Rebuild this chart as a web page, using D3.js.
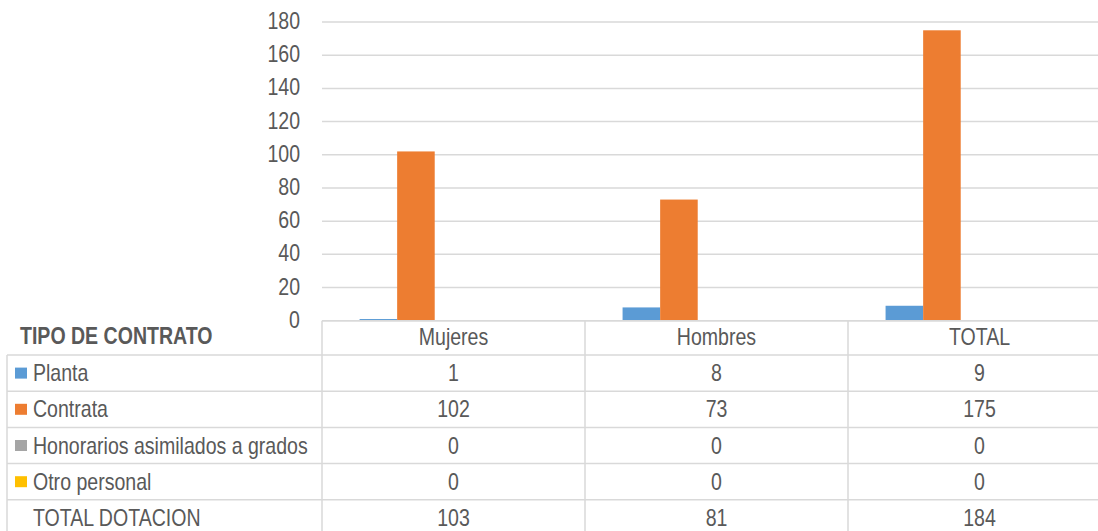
<!DOCTYPE html>
<html>
<head>
<meta charset="utf-8">
<script src="https://cdnjs.cloudflare.com/ajax/libs/d3/7.8.5/d3.min.js"></script>
<style>
  html, body { margin: 0; padding: 0; background: #fff; overflow: hidden; }
  svg text { font-family: "Liberation Sans", Arial, sans-serif; fill: #595959; }
</style>
</head>
<body>
<svg id="chart" width="1098" height="531"></svg>
<script>
// chart values
var categories = ["Mujeres", "Hombres", "TOTAL"];
var seriesNames = ["Planta", "Contrata", "Honorarios asimilados a grados", "Otro personal", "TOTAL DOTACION"];
var planta = [1, 8, 9];
var contrata = [102, 73, 175];
var honorarios = [0, 0, 0];
var otroPersonal = [0, 0, 0];
var totalDotacion = [103, 81, 184];
var seriesColors = ["#5B9BD5", "#ED7D31", "#A5A5A5", "#FFC000", "none"];
var yTicks = [0, 20, 40, 60, 80, 100, 120, 140, 160, 180];
var tableTitle = "TIPO DE CONTRATO";

var seriesValues = [planta, contrata, honorarios, otroPersonal, totalDotacion];

var plotLeft = 322, plotRight = 1111, plotTop = 22, plotBottom = 320.7;
var tableLeft = 7, headerBottom = 355, rowHeight = 36.2;
var gridColor = "#d9d9d9";
var fontSize = 23;
var narrow = 0.85; // squeeze Liberation Sans to look like Arial Narrow

var svg = d3.select("#chart");

// text drawn at (x, y) and squeezed horizontally
function narrowText(sel, x, y) {
    sel.attr("transform", function (d, i) {
        return "translate(" + x(d, i) + "," + y(d, i) + ") scale(" + narrow + ",1)";
    })
    .attr("dy", "0.35em")
    .style("font-size", fontSize + "px");
    return sel;
}

var xScale = d3.scaleBand().domain(categories).range([plotLeft, plotRight]).paddingInner(0).paddingOuter(0);
// 5 series in each group, TOTAL DOTACION has no fill
var xSeries = d3.scaleBand().domain(seriesNames).range([0, xScale.bandwidth()]).paddingInner(0).paddingOuter(1);
var yScale = d3.scaleLinear().domain([0, 180]).range([plotBottom, plotTop]);

// gridlines
svg.append("g").selectAll("line")
    .data(yTicks)
    .enter()
    .append("line")
    .attr("x1", plotLeft)
    .attr("x2", plotRight)
    .attr("y1", function (d) { return yScale(d); })
    .attr("y2", function (d) { return yScale(d); })
    .attr("stroke", gridColor)
    .attr("stroke-width", 1.5);

// y tick labels
narrowText(svg.append("g").selectAll("text")
    .data(yTicks)
    .enter()
    .append("text")
    .attr("text-anchor", "end")
    .text(function (d) { return d; }),
    function () { return 300; },
    function (d) { return yScale(d) - 1; });

// bars
seriesNames.forEach(function (name, si) {
    svg.append("g").selectAll("rect")
        .data(seriesValues[si])
        .enter()
        .append("rect")
        .attr("x", function (d, i) { return xScale(categories[i]) + xSeries(name); })
        .attr("width", xSeries.bandwidth())
        .attr("y", function (d) { return yScale(d); })
        .attr("height", function (d) { return yScale(0) - yScale(d); })
        .attr("fill", seriesColors[si]);
});

// data table
var rowScale = d3.scaleBand().domain(seriesNames)
    .range([headerBottom, headerBottom + rowHeight * seriesNames.length]);
var tableBottom = headerBottom + rowHeight * seriesNames.length;

var table = svg.append("g");
// horizontal lines
table.append("line")
    .attr("x1", plotLeft).attr("x2", plotRight)
    .attr("y1", plotBottom).attr("y2", plotBottom)
    .attr("stroke", gridColor).attr("stroke-width", 1.5);
table.selectAll("line.row")
    .data(seriesNames)
    .enter()
    .append("line")
    .attr("class", "row")
    .attr("x1", tableLeft).attr("x2", plotRight)
    .attr("y1", function (d) { return rowScale(d); })
    .attr("y2", function (d) { return rowScale(d); })
    .attr("stroke", gridColor).attr("stroke-width", 1.5);
// vertical lines
table.append("line")
    .attr("x1", tableLeft).attr("x2", tableLeft)
    .attr("y1", headerBottom).attr("y2", tableBottom)
    .attr("stroke", gridColor).attr("stroke-width", 1.5);
table.selectAll("line.col")
    .data(categories.concat(["end"]))
    .enter()
    .append("line")
    .attr("class", "col")
    .attr("x1", function (d, i) { return plotLeft + i * xScale.step(); })
    .attr("x2", function (d, i) { return plotLeft + i * xScale.step(); })
    .attr("y1", plotBottom).attr("y2", tableBottom)
    .attr("stroke", gridColor).attr("stroke-width", 1.5);

// header
narrowText(table.append("text")
    .style("font-weight", "bold")
    .text(tableTitle),
    function () { return 20; },
    function () { return 335.5; });
narrowText(table.selectAll("text.cat")
    .data(categories)
    .enter()
    .append("text")
    .attr("class", "cat")
    .attr("text-anchor", "middle")
    .text(function (d) { return d; }),
    function (d) { return xScale(d) + xScale.bandwidth() / 2; },
    function () { return 337; });

// row labels with legend keys
seriesNames.forEach(function (name, si) {
    var cy = rowScale(name) + rowScale.bandwidth() / 2;
    if (seriesColors[si] !== "none") {
        table.append("rect")
            .attr("x", 15).attr("y", cy - 5.5)
            .attr("width", 12).attr("height", 11)
            .attr("fill", seriesColors[si]);
    }
    narrowText(table.append("text").text(name),
        function () { return 33; },
        function () { return cy; });
    narrowText(table.selectAll(null)
        .data(seriesValues[si])
        .enter()
        .append("text")
        .attr("text-anchor", "middle")
        .text(function (d) { return d; }),
        function (d, i) { return xScale(categories[i]) + xScale.bandwidth() / 2; },
        function () { return cy; });
});
</script>
</body>
</html>
